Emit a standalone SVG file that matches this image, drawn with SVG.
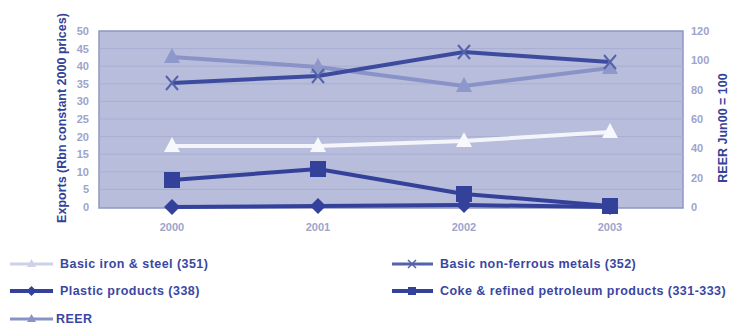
<svg xmlns="http://www.w3.org/2000/svg" width="731" height="325" viewBox="0 0 731 325">
<style>
.tick{font-family:"Liberation Sans",Arial,sans-serif;font-size:11px;fill:#9ea4cc;font-weight:bold}
.ttl{font-family:"Liberation Sans",Arial,sans-serif;font-size:12.5px;fill:#34429a;font-weight:bold}
.leg{font-family:"Liberation Sans",Arial,sans-serif;font-size:12.5px;letter-spacing:0.45px;fill:#3a47a2;font-weight:bold}
.grid{stroke:#a9afd2;stroke-width:1}
.iron{stroke:#f4f5fb;stroke-width:4;fill:none}
.nonf{stroke:#3d4b9e;stroke-width:4;fill:none}
.reer{stroke:#8a93c7;stroke-width:4;fill:none}
.coke{stroke:#34419a;stroke-width:4;fill:none}
.plas{stroke:#34419a;stroke-width:4;fill:none}
</style>
<defs>
<path id="tri" d="M0,-9 L8,6 L-8,6 Z"/>
<path id="sq" d="M-8,-8 H8 V8 H-8 Z"/>
<path id="dia" d="M0,-8 L8,0 L0,8 L-8,0 Z"/>
<path id="xm" d="M-6,-7 L6,7 M6,-7 L-6,7"/>
</defs>
<rect width="731" height="325" fill="#ffffff"/>
<g id="plot">
<rect x="99" y="31" width="584" height="177" fill="#b7bddb" stroke="#8f97c6" stroke-width="1.5"/>
<g class="grid">
<line x1="99" y1="48.6" x2="683" y2="48.6"/>
<line x1="99" y1="66.2" x2="683" y2="66.2"/>
<line x1="99" y1="83.8" x2="683" y2="83.8"/>
<line x1="99" y1="101.4" x2="683" y2="101.4"/>
<line x1="99" y1="119" x2="683" y2="119"/>
<line x1="99" y1="136.6" x2="683" y2="136.6"/>
<line x1="99" y1="154.2" x2="683" y2="154.2"/>
<line x1="99" y1="171.8" x2="683" y2="171.8"/>
<line x1="99" y1="189.4" x2="683" y2="189.4"/>
</g>
</g>
<g id="axis-left">
<text class="tick" text-anchor="end" x="89" y="35">50</text>
<text class="tick" text-anchor="end" x="89" y="52.6">45</text>
<text class="tick" text-anchor="end" x="89" y="70.2">40</text>
<text class="tick" text-anchor="end" x="89" y="87.8">35</text>
<text class="tick" text-anchor="end" x="89" y="105.4">30</text>
<text class="tick" text-anchor="end" x="89" y="123">25</text>
<text class="tick" text-anchor="end" x="89" y="140.6">20</text>
<text class="tick" text-anchor="end" x="89" y="158.2">15</text>
<text class="tick" text-anchor="end" x="89" y="175.8">10</text>
<text class="tick" text-anchor="end" x="89" y="193.4">5</text>
<text class="tick" text-anchor="end" x="89" y="211">0</text>
<text class="ttl" text-anchor="middle" transform="translate(66,118) rotate(-90)">Exports (Rbn constant 2000 prices)</text>
</g>
<g id="axis-right">
<text class="tick" x="691" y="35">120</text>
<text class="tick" x="691" y="64.3">100</text>
<text class="tick" x="691" y="93.7">80</text>
<text class="tick" x="691" y="123">60</text>
<text class="tick" x="691" y="152.3">40</text>
<text class="tick" x="691" y="181.7">20</text>
<text class="tick" x="691" y="211">0</text>
<text class="ttl" text-anchor="middle" transform="translate(727,128) rotate(-90)">REER Jun00 = 100</text>
</g>
<g id="axis-x">
<text class="tick" text-anchor="middle" x="172" y="231">2000</text>
<text class="tick" text-anchor="middle" x="318" y="231">2001</text>
<text class="tick" text-anchor="middle" x="464" y="231">2002</text>
<text class="tick" text-anchor="middle" x="610" y="231">2003</text>
</g>
<g id="connectors">
<polyline class="reer" points="172,57 318,67 464,86 610,68"/>
<polyline class="nonf" points="172,83 318,76 464,52 610,62"/>
<polyline class="iron" points="172,146 318,146 464,141 610,132"/>
<polyline class="plas" points="172,207 318,206 464,205 610,207"/>
<polyline class="coke" points="172,180 318,169 464,194 610,206"/>
</g>
<g id="series-reer" fill="#8f98ca">
<use href="#tri" x="172" y="57"/><use href="#tri" x="318" y="67"/><use href="#tri" x="464" y="86"/><use href="#tri" x="610" y="68"/>
</g>
<g id="series-nonferrous" stroke="#5563aa" stroke-width="2" fill="none">
<use href="#xm" x="172" y="83"/><use href="#xm" x="318" y="76"/><use href="#xm" x="464" y="52"/><use href="#xm" x="610" y="62"/>
</g>
<g id="series-iron" fill="#f7f8fc">
<use href="#tri" x="172" y="146"/><use href="#tri" x="318" y="146"/><use href="#tri" x="464" y="141"/><use href="#tri" x="610" y="132"/>
</g>
<g id="series-plastic" fill="#34419a">
<use href="#dia" x="172" y="207"/><use href="#dia" x="318" y="206"/><use href="#dia" x="464" y="205"/><use href="#dia" x="610" y="207"/>
</g>
<g id="series-coke" fill="#34419a">
<use href="#sq" x="172" y="180"/><use href="#sq" x="318" y="169"/><use href="#sq" x="464" y="194"/><use href="#sq" x="610" y="206"/>
</g>
<g id="legend">
<g id="leg-iron">
<line x1="10" y1="264" x2="53" y2="264" stroke="#cdd1ea" stroke-width="3"/>
<path d="M31.5,259 L36,267 L27,267 Z" fill="#cdd1ea"/>
<text class="leg" x="60" y="268">Basic iron &amp; steel (351)</text>
</g>
<g id="leg-plastic">
<line x1="10" y1="291" x2="53" y2="291" stroke="#34419a" stroke-width="4"/>
<path d="M31.5,286 L36.5,291 L31.5,296 L26.5,291 Z" fill="#34419a"/>
<text class="leg" x="60" y="295">Plastic products (338)</text>
</g>
<g id="leg-reer">
<line x1="10" y1="319" x2="53" y2="319" stroke="#8a93c7" stroke-width="3"/>
<path d="M31.5,314 L36,322 L27,322 Z" fill="#8a93c7"/>
<text class="leg" x="56" y="323">REER</text>
</g>
<g id="leg-nonferrous">
<line x1="392" y1="264" x2="433" y2="264" stroke="#5563aa" stroke-width="3"/>
<path d="M408,260 L416,268 M416,260 L408,268" stroke="#5563aa" stroke-width="1.5"/>
<text class="leg" x="440" y="268">Basic non-ferrous metals (352)</text>
</g>
<g id="leg-coke">
<line x1="392" y1="291" x2="433" y2="291" stroke="#34419a" stroke-width="4"/>
<rect x="408" y="287" width="8" height="8" fill="#34419a"/>
<text class="leg" x="440" y="295">Coke &amp; refined petroleum products (331-333)</text>
</g>
</g>
</svg>
